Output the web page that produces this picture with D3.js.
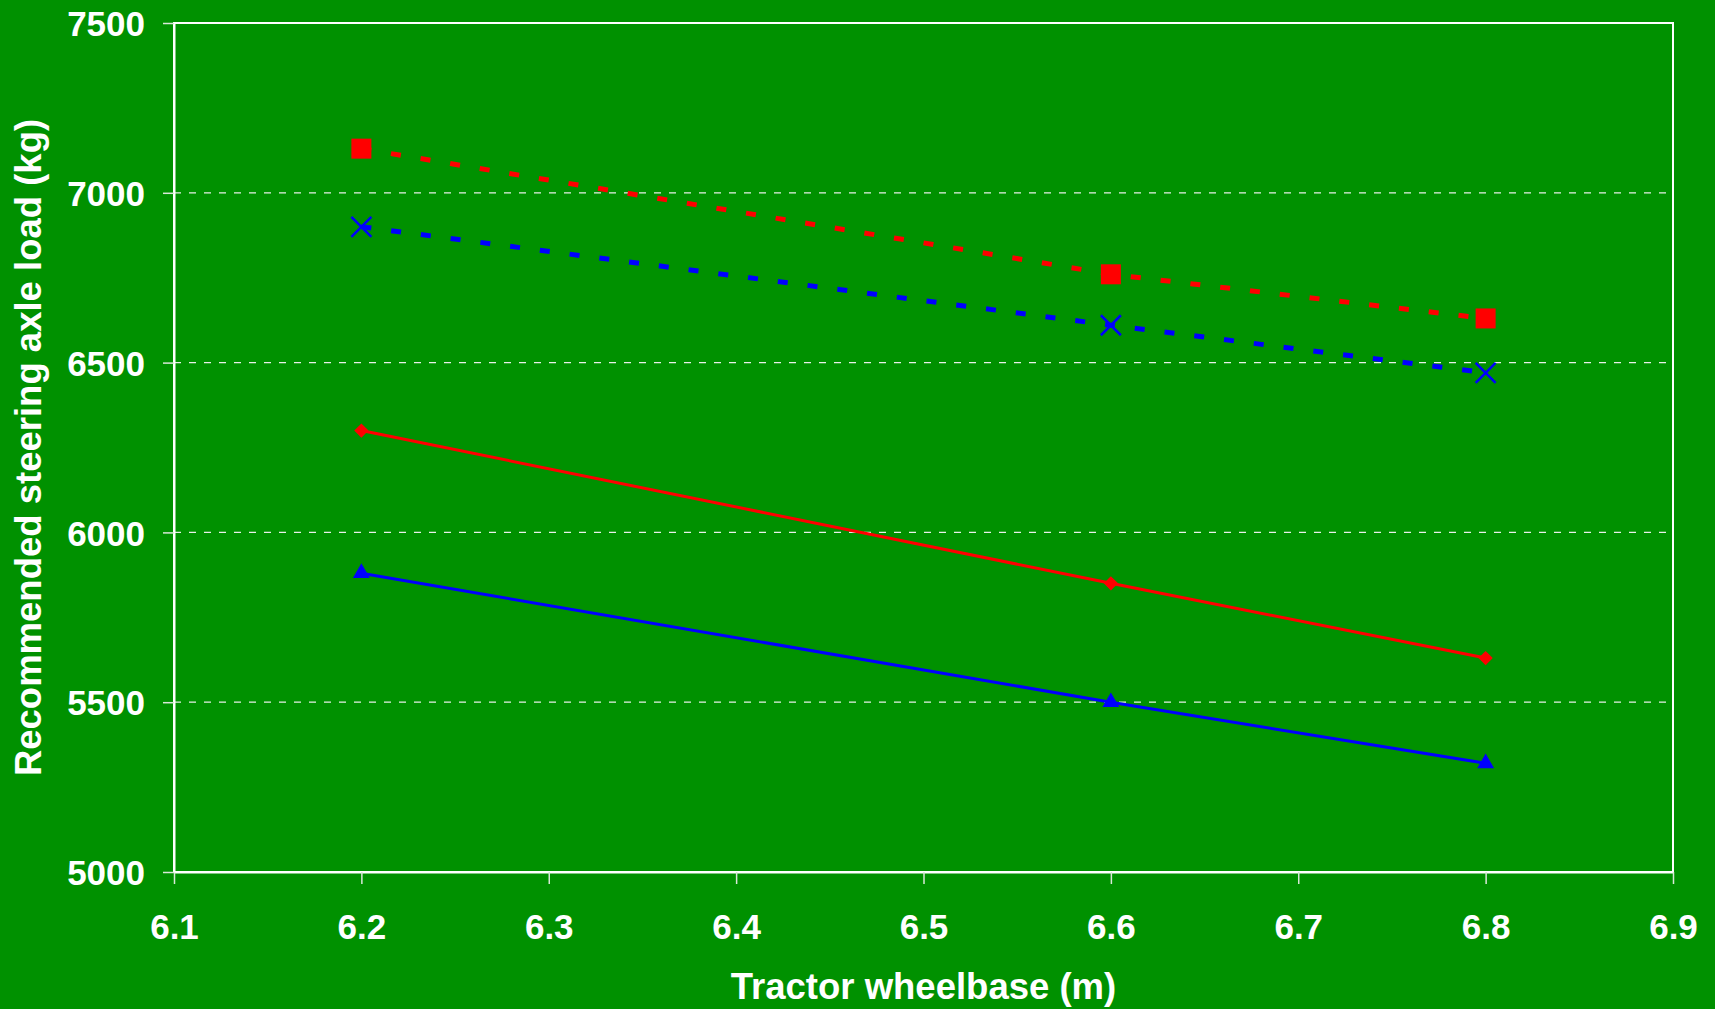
<!DOCTYPE html>
<html>
<head>
<meta charset="utf-8">
<script src="https://cdn.jsdelivr.net/npm/d3@7/dist/d3.min.js"></script>
<style>
  html, body { margin: 0; padding: 0; background: #009100; overflow: hidden; }
  svg { display: block; }
  text { font-family: "Liberation Sans", Arial, sans-serif; font-weight: bold; fill: #ffffff; }
</style>
</head>
<body>
<div id="chart"></div>
<script>
// wheelbase values (m)
var wheelbase = [6.2, 6.6, 6.8]

// four series
var redDotted = [7130, 6760, 6630]
var blueDotted = [6900, 6610, 6470]
var redSolid = [6300, 5850, 5630]
var blueSolid = [5880, 5500, 5320]

var xTicks = [6.1, 6.2, 6.3, 6.4, 6.5, 6.6, 6.7, 6.8, 6.9]
var yTicks = [5000, 5500, 6000, 6500, 7000, 7500]

var width = 1715
var height = 1009

var margin = { left: 174, right: 42, top: 23, bottom: 137 }
var innerWidth = width - margin.left - margin.right
var innerHeight = height - margin.top - margin.bottom

var svg = d3.select('#chart')
            .append('svg')
            .attr('width', width)
            .attr('height', height)

svg.append('rect')
    .attr('width', width)
    .attr('height', height)
    .attr('fill', '#009100')

var g = svg.append('g')
            .attr('transform', `translate(${margin.left},${margin.top})`)

var xScale = d3.scaleLinear()
                .domain([6.1, 6.9])
                .range([0, innerWidth])

var yScale = d3.scaleLinear()
                .domain([5000, 7500])
                .range([innerHeight, 0])

// gridlines (dashed)
g.selectAll('.grid')
    .data(yTicks.filter(d => d > 5000 && d < 7500))
    .enter()
    .append('line')
    .attr('class', 'grid')
    .attr('x1', 0)
    .attr('x2', innerWidth)
    .attr('y1', d => yScale(d))
    .attr('y2', d => yScale(d))
    .attr('stroke', '#e8f0e8')
    .attr('stroke-width', 1.3)
    .attr('stroke-dasharray', '7,8')

// plot border
g.append('rect')
    .attr('x', 0)
    .attr('y', 0)
    .attr('width', innerWidth)
    .attr('height', innerHeight)
    .attr('fill', 'none')
    .attr('stroke', '#ffffff')
    .attr('stroke-width', 2)

// axes
var xAxis = d3.axisBottom(xScale)
                .tickValues(xTicks)
                .tickFormat(d3.format('.1f'))
                .tickSizeInner(12)
                .tickSizeOuter(0)
                .tickPadding(30)

var yAxis = d3.axisLeft(yScale)
                .tickValues(yTicks)
                .tickFormat(d3.format('d'))
                .tickSizeInner(11)
                .tickSizeOuter(0)
                .tickPadding(18)

var gx = g.append('g')
    .attr('transform', `translate(0,${innerHeight})`)
    .call(xAxis)

var gy = g.append('g')
    .call(yAxis)

gx.select('.domain').attr('stroke', '#ffffff').attr('stroke-width', 2)
gy.select('.domain').attr('stroke', '#ffffff').attr('stroke-width', 2)
gx.selectAll('.tick line').attr('stroke', '#d8e8d8').attr('stroke-width', 1.5)
gy.selectAll('.tick line').attr('stroke', '#d8e8d8').attr('stroke-width', 1.5)
gx.selectAll('.tick text').attr('font-size', 35).attr('fill', '#ffffff')
    .style('font-family', '"Liberation Sans", Arial, sans-serif').style('font-weight', 'bold')
gy.selectAll('.tick text').attr('font-size', 35).attr('fill', '#ffffff').attr('dy', '0.36em')
    .style('font-family', '"Liberation Sans", Arial, sans-serif').style('font-weight', 'bold')

// axis titles
svg.append('text')
    .attr('x', margin.left + innerWidth / 2)
    .attr('y', 999)
    .attr('text-anchor', 'middle')
    .attr('font-size', 36.5)
    .text('Tractor wheelbase (m)')

svg.append('text')
    .attr('text-anchor', 'middle')
    .attr('font-size', 36.5)
    .attr('transform', `translate(41,${margin.top + innerHeight / 2})rotate(-90)`)
    .text('Recommended steering axle load (kg)')

// lines
var line = d3.line()
    .x((d, i) => xScale(wheelbase[i]))
    .y(d => yScale(d))

var series = [
    { values: redDotted, color: '#ff0000', dash: '10,20', width: 5, marker: 'square' },
    { values: blueDotted, color: '#0000ff', dash: '10,20', width: 5, marker: 'cross' },
    { values: redSolid, color: '#ff0000', dash: null, width: 3, marker: 'diamond' },
    { values: blueSolid, color: '#0000ff', dash: null, width: 3, marker: 'triangle' }
]

var symbolMap = {
    square: d3.symbolSquare,
    diamond: d3.symbolDiamond2,
    triangle: d3.symbolTriangle
}

var symbolSize = {
    square: 400,
    diamond: 130,
    triangle: 125
}

series.forEach(function (s) {
    g.append('path')
        .datum(s.values)
        .attr('d', line)
        .attr('fill', 'none')
        .attr('stroke', s.color)
        .attr('stroke-width', s.width)
        .attr('stroke-dasharray', s.dash)

    var pts = g.selectAll(null)
        .data(s.values)
        .enter()

    if (s.marker === 'cross') {
        var cross = pts.append('g')
            .attr('transform', (d, i) => `translate(${xScale(wheelbase[i])},${yScale(d)})`)
        cross.append('line')
            .attr('x1', -10).attr('y1', -10).attr('x2', 10).attr('y2', 10)
            .attr('stroke', s.color).attr('stroke-width', 2.5)
        cross.append('line')
            .attr('x1', -10).attr('y1', 10).attr('x2', 10).attr('y2', -10)
            .attr('stroke', s.color).attr('stroke-width', 2.5)
    } else {
        var sym = d3.symbol().type(symbolMap[s.marker]).size(symbolSize[s.marker])
        pts.append('path')
            .attr('d', sym)
            .attr('transform', (d, i) => `translate(${xScale(wheelbase[i])},${yScale(d)})`)
            .attr('fill', s.color)
    }
})
</script>
</body>
</html>
